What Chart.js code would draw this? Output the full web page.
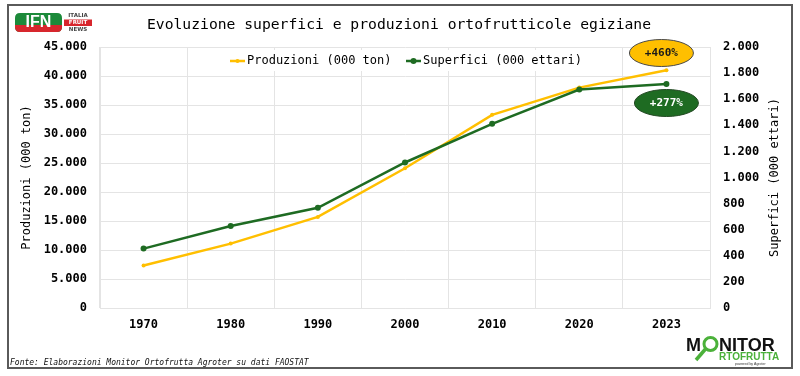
<!DOCTYPE html>
<html>
<head>
<meta charset="utf-8">
<script src="https://cdn.jsdelivr.net/npm/chart.js@4.4.1/dist/chart.umd.min.js"></script>
<style>
  html, body { margin: 0; padding: 0; background: #ffffff; }
  #wrap { width: 800px; height: 376px; position: relative; }
</style>
</head>
<body>
<div id="wrap"><canvas id="c" width="800" height="376"></canvas></div>
<script>
// ---- Data ----
const anni = ['1970', '1980', '1990', '2000', '2010', '2020', '2023'];
const produzioni = [7320, 11100, 15700, 24100, 33300, 38000, 41000];   // 000 ton
const superfici = [455, 628, 768, 1115, 1411, 1674, 1717];             // 000 ettari
const labelProduzioni = 'Produzioni (000 ton)';
const labelSuperfici = 'Superfici (000 ettari)';
const titolo = 'Evoluzione superfici e produzioni ortofrutticole egiziane';
const fonte = 'Fonte: Elaborazioni Monitor Ortofrutta Agroter su dati FAOSTAT';
const variazioni = ['+460%', '+277%'];

const GIALLO = '#FFBF00';
const VERDE = '#1E6B22';
const MONO = '"DejaVu Sans Mono", "Liberation Mono", monospace';

function fmt(v) {
  return String(v).replace(/\B(?=(\d{3})+(?!\d))/g, '.');
}

const decor = {
  id: 'decor',
  beforeDraw(chart) {
    const ctx = chart.ctx;
    ctx.save();
    ctx.fillStyle = '#ffffff';
    ctx.fillRect(0, 0, chart.width, chart.height);
    ctx.restore();
  },
  afterDraw(chart) {
    const ctx = chart.ctx;
    const area = chart.chartArea;
    const xs = chart.scales.x;
    ctx.save();

    // outer frame
    ctx.strokeStyle = '#5a5a5a';
    ctx.lineWidth = 2;
    ctx.strokeRect(8, 5, 784, 363);

    // title
    ctx.fillStyle = '#000';
    ctx.font = '14.7px ' + MONO;
    ctx.textAlign = 'center';
    ctx.textBaseline = 'middle';
    ctx.fillText(titolo, 399, 25);

    // axis titles
    const midY = (area.top + area.bottom) / 2;
    ctx.font = '12px ' + MONO;
    ctx.save();
    ctx.translate(27, midY);
    ctx.rotate(-Math.PI / 2);
    ctx.fillText(labelProduzioni, 0, 0);
    ctx.restore();
    ctx.save();
    ctx.translate(775, midY);
    ctx.rotate(-Math.PI / 2);
    ctx.fillText(labelSuperfici, 0, 0);
    ctx.restore();

    // legend (inside plot, white box)
    const ds = chart.data.datasets;
    ctx.fillStyle = '#ffffff';
    ctx.fillRect(227, 50, 358, 21);
    const ly = 61;
    const items = [{ x: 230, d: ds[0] }, { x: 406, d: ds[1] }];
    ctx.font = '12px ' + MONO;
    ctx.textAlign = 'left';
    items.forEach(it => {
      ctx.strokeStyle = it.d.borderColor;
      ctx.lineWidth = 2.5;
      ctx.beginPath();
      ctx.moveTo(it.x, ly);
      ctx.lineTo(it.x + 15, ly);
      ctx.stroke();
      ctx.fillStyle = it.d.borderColor;
      ctx.beginPath();
      ctx.arc(it.x + 7.5, ly, it.d.pointRadius, 0, Math.PI * 2);
      ctx.fill();
      ctx.fillStyle = '#000';
      ctx.fillText(it.d.label, it.x + 17, ly);
    });

    // annotation ellipses near last point
    const xl = xs.getPixelForValue(anni.length - 1);
    function ellipse(cx, cy, fill, stroke, text, tcol) {
      ctx.beginPath();
      ctx.ellipse(cx, cy, 32, 13.5, 0, 0, Math.PI * 2);
      ctx.fillStyle = fill;
      ctx.fill();
      ctx.lineWidth = 1;
      ctx.strokeStyle = stroke;
      ctx.stroke();
      ctx.fillStyle = tcol;
      ctx.font = 'bold 11px ' + MONO;
      ctx.textAlign = 'center';
      ctx.textBaseline = 'middle';
      ctx.fillText(text, cx, cy + 0.5);
    }
    ellipse(xl - 5, 53, GIALLO, '#4a4a4a', variazioni[0], '#1a1a1a');
    ellipse(xl, 103, VERDE, '#244a24', variazioni[1], '#ffffff');

    // source
    ctx.fillStyle = '#111';
    ctx.font = 'italic 8px ' + MONO;
    ctx.textAlign = 'left';
    ctx.textBaseline = 'alphabetic';
    ctx.fillText(fonte, 10, 365);

    // IFN logo (approximation)
    function rr(x, y, w, h, r) {
      ctx.beginPath();
      ctx.moveTo(x + r, y);
      ctx.lineTo(x + w - r, y);
      ctx.quadraticCurveTo(x + w, y, x + w, y + r);
      ctx.lineTo(x + w, y + h - r);
      ctx.quadraticCurveTo(x + w, y + h, x + w - r, y + h);
      ctx.lineTo(x + r, y + h);
      ctx.quadraticCurveTo(x, y + h, x, y + h - r);
      ctx.lineTo(x, y + r);
      ctx.quadraticCurveTo(x, y, x + r, y);
      ctx.closePath();
    }
    rr(15, 13, 47, 19, 5);
    ctx.fillStyle = '#1c8a3a';
    ctx.fill();
    ctx.save();
    ctx.beginPath();
    ctx.rect(15, 25, 47, 7);
    ctx.clip();
    rr(15, 13, 47, 19, 5);
    ctx.fillStyle = '#d7262d';
    ctx.fill();
    ctx.restore();
    ctx.fillStyle = '#ffffff';
    ctx.font = 'bold 16px "Liberation Sans", Arial, sans-serif';
    ctx.textAlign = 'center';
    ctx.textBaseline = 'middle';
    ctx.fillText('IFN', 38.5, 23);
    ctx.font = 'bold 5.5px "DejaVu Sans", sans-serif';
    ctx.fillStyle = '#444';
    ctx.fillText('ITALIA', 78, 15.5);
    ctx.fillStyle = '#d7262d';
    ctx.fillRect(64, 19.5, 28, 6.5);
    ctx.fillStyle = '#ffffff';
    ctx.fillText('FRUIT', 78, 23);
    ctx.fillStyle = '#444';
    ctx.fillText('NEWS', 78, 29.5);

    // MONITOR ORTOFRUTTA logo (approximation)
    ctx.textAlign = 'left';
    ctx.textBaseline = 'alphabetic';
    ctx.fillStyle = '#111';
    ctx.font = 'bold 18px "Liberation Sans", Arial, sans-serif';
    ctx.fillText('M', 686, 351);
    ctx.fillText('NITOR', 719, 351);
    ctx.strokeStyle = '#4bb13a';
    ctx.lineWidth = 3;
    ctx.beginPath();
    ctx.arc(710.5, 344, 6.5, 0, Math.PI * 2);
    ctx.stroke();
    ctx.lineWidth = 3.5;
    ctx.beginPath();
    ctx.moveTo(705.5, 349);
    ctx.lineTo(696, 360);
    ctx.stroke();
    ctx.fillStyle = '#4bb13a';
    ctx.font = 'bold 10px "Liberation Sans", Arial, sans-serif';
    ctx.fillText('RTOFRUTTA', 719, 360);
    ctx.fillStyle = '#333';
    ctx.font = '3.5px "Liberation Sans", Arial, sans-serif';
    ctx.fillText('powered by Agroter', 735, 365);

    ctx.restore();
  }
};

new Chart(document.getElementById('c'), {
  type: 'line',
  data: {
    labels: anni,
    datasets: [
      {
        label: labelProduzioni,
        data: produzioni,
        yAxisID: 'y',
        borderColor: GIALLO,
        backgroundColor: GIALLO,
        borderWidth: 2.5,
        pointRadius: 2,
        pointHoverRadius: 2,
        pointBorderWidth: 0,
        tension: 0,
        order: 1
      },
      {
        label: labelSuperfici,
        data: superfici,
        yAxisID: 'y1',
        borderColor: VERDE,
        backgroundColor: VERDE,
        borderWidth: 2.5,
        pointRadius: 3,
        pointHoverRadius: 3,
        pointBorderWidth: 0,
        tension: 0,
        order: 0
      }
    ]
  },
  options: {
    responsive: false,
    animation: false,
    layout: { padding: { left: 0, right: 0, top: 47, bottom: 0 } },
    plugins: {
      legend: { display: false },
      title: { display: false },
      tooltip: { enabled: false }
    },
    scales: {
      x: {
        offset: true,
        grid: { offset: true, color: '#e4e4e4', drawTicks: false },
        border: { color: '#e4e4e4' },
        ticks: {
          padding: 10,
          color: '#000',
          font: { family: MONO, size: 12, weight: 'bold' }
        },
        afterFit(s) { s.height = 68; }
      },
      y: {
        position: 'left',
        min: 0,
        max: 45000,
        grid: { color: '#e4e4e4', drawTicks: false },
        border: { color: '#e4e4e4' },
        ticks: {
          stepSize: 5000,
          padding: 13,
          color: '#000',
          font: { family: MONO, size: 12, weight: 'bold' },
          callback: v => fmt(v)
        },
        afterFit(s) { s.width = 100; }
      },
      y1: {
        position: 'right',
        min: 0,
        max: 2000,
        grid: { drawOnChartArea: false, drawTicks: false },
        border: { color: '#e4e4e4' },
        ticks: {
          stepSize: 200,
          padding: 13,
          color: '#000',
          font: { family: MONO, size: 12, weight: 'bold' },
          callback: v => fmt(v)
        },
        afterFit(s) { s.width = 90; }
      }
    }
  },
  plugins: [decor]
});
</script>
</body>
</html>
